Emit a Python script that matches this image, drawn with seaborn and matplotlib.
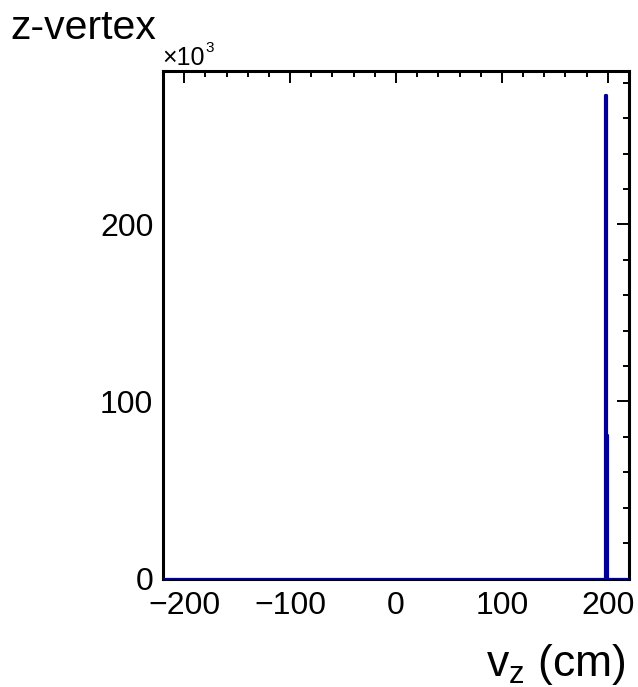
import numpy as np
import pandas as pd
import seaborn as sns
import matplotlib
matplotlib.use("Agg")
import matplotlib.pyplot as plt
from matplotlib.ticker import MultipleLocator, FuncFormatter

# z-vertex distribution: 400 bins over [-220, 220] cm; only two bins are populated
x_min, x_max, n_bins = -220.0, 220.0, 400
vz_centers = [197.55, 198.65]          # cm
vz_counts = [273000, 81000]            # entries per bin
y_major = [0, 100000, 200000]
y_labels = ["0", "100", "200"]
x_major = [-200, -100, 0, 100, 200]

sns.set_theme(style="white")
plt.rcParams["font.family"] = ["Liberation Sans", "DejaVu Sans"]
plt.rcParams["mathtext.fontset"] = "custom"
plt.rcParams["mathtext.rm"] = "Liberation Sans"
plt.rcParams["mathtext.it"] = "Liberation Sans"
plt.rcParams["text.color"] = "black"
plt.rcParams["xtick.color"] = "black"
plt.rcParams["ytick.color"] = "black"

df = pd.DataFrame({"vz": vz_centers, "n": vz_counts})

fig = plt.figure(figsize=(6.38, 6.87), dpi=100)
ax = fig.add_axes([163 / 638, 1 - 578.5 / 687, 466 / 638, 507.5 / 687])

sns.histplot(data=df, x="vz", weights="n", bins=n_bins, binrange=(x_min, x_max),
             element="step", fill=False, color="#000099", linewidth=2.3,
             ax=ax, zorder=3)

ax.set_xlim(x_min, x_max)
ax.set_ylim(0, 1.05 * max(vz_counts))
ax.set_xlabel("")
ax.set_ylabel("")

ax.set_xticks(x_major)
ax.xaxis.set_minor_locator(MultipleLocator(20))
ax.set_yticks(y_major)
ax.set_yticklabels(y_labels)
ax.yaxis.set_minor_locator(MultipleLocator(20000))
ax.xaxis.set_major_formatter(FuncFormatter(lambda v, p: f"{v:.0f}".replace("-", "\u2212")))

for s in ax.spines.values():
    s.set_linewidth(2.2)
    s.set_color("black")
    s.set_zorder(2.5)

ax.tick_params(which="both", direction="in", top=True, right=True,
               width=1.4, color="black", labelsize=23, labelcolor="black")
ax.tick_params(which="major", length=8.5)
ax.tick_params(which="minor", length=4)
ax.tick_params(axis="x", which="major", pad=9)
ax.tick_params(axis="y", which="major", pad=7)

fig.text(10 / 638, 1 - 39 / 687, "z-vertex", fontsize=29.5, ha="left", va="baseline")
fig.text(162 / 638, 1 - 65 / 687, "\u00d710", fontsize=18, ha="left", va="baseline")
fig.text(205 / 638, 1 - 52 / 687, "3", fontsize=11, ha="left", va="baseline")
fig.text(626 / 638, 1 - 676 / 687, r"v$_{\mathrm{z}}$ (cm)", fontsize=32, ha="right", va="baseline")

fig.savefig("out.png", dpi=100)
